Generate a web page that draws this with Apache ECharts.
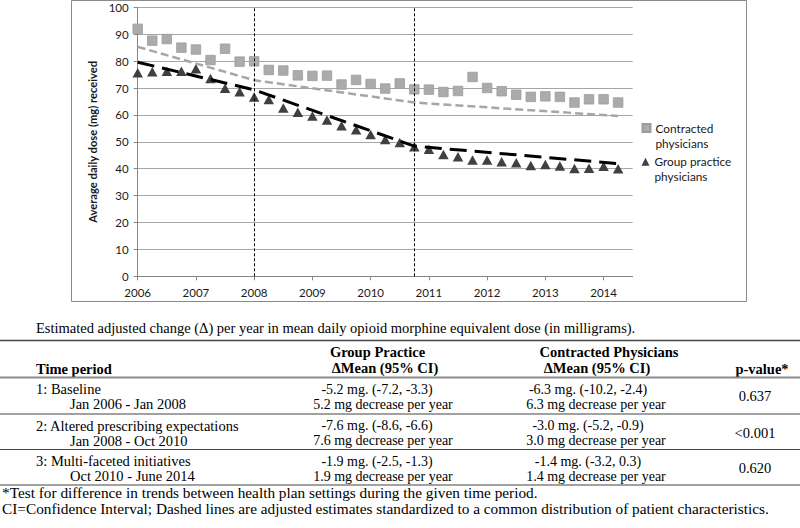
<!DOCTYPE html>
<html><head><meta charset="utf-8">
<script src="https://cdn.jsdelivr.net/npm/echarts@6/dist/echarts.min.js"></script>
<style>html,body{margin:0;padding:0;background:#fff}#c{width:800px;height:528px}</style>
</head><body><div id="c"></div>
<script>
// ---- chart data ----
const years = [2006,2006.25,2006.5,2006.75,2007,2007.25,2007.5,2007.75,2008,2008.25,2008.5,2008.75,2009,2009.25,2009.5,2009.75,2010,2010.25,2010.5,2010.75,2011,2011.25,2011.5,2011.75,2012,2012.25,2012.5,2012.75,2013,2013.25,2013.5,2013.75,2014,2014.25];
const contracted = [92,87.6,88.2,85.0,84.3,80.4,84.6,79.8,79.9,76.7,76.5,74.7,74.5,74.6,71.3,73.0,71.5,69.8,71.7,69.5,69.4,68.5,68.9,74.1,70.0,68.8,67.5,66.7,66.9,66.7,64.6,65.8,65.8,64.6];
const groupPractice = [75.7,76.0,76.2,76.2,77.2,73.5,69.9,68.6,66.7,65.7,62.6,61.0,59.6,58.1,56.0,54.5,52.7,50.9,49.7,48.2,47.2,45.3,44.4,43.2,43.2,42.6,42.2,41.2,41.6,41.0,40.1,40.2,40.9,40.0];
const trendYears = [2006,2008,2010.75,2014.25];
const trendContracted = [85.3,72.9,64.6,59.6];
const trendGroup = [79.6,69.3,48.4,41.9];
const breakYears = [2008,2010.75];
const xTickLabels = [2006,2007,2008,2009,2010,2011,2012,2013,2014];
const seriesNames = ['Contracted physicians','Group practice physicians'];
const yTitle = 'Average daily dose (mg) received';

// ---- table text ----
const tableTitle = 'Estimated adjusted change (\u0394) per year in mean daily opioid morphine equivalent dose (in milligrams).';
const headGroup = ['Group Practice','\u0394Mean (95% CI)'];
const headContracted = ['Contracted Physicians','\u0394Mean (95% CI)'];
const headPeriod = 'Time period';
const headP = 'p-value*';
const periodNames = ['1: Baseline','2: Altered prescribing expectations','3: Multi-faceted initiatives'];
const periodDates = ['Jan 2006 - Jan 2008','Jan 2008 - Oct 2010','Oct 2010 - June 2014'];
const groupCI = ['-5.2 mg. (-7.2, -3.3)','-7.6 mg. (-8.6, -6.6)','-1.9 mg. (-2.5, -1.3)'];
const groupDesc = ['5.2 mg decrease per year','7.6 mg decrease per year','1.9 mg decrease per year'];
const contractedCI = ['-6.3 mg. (-10.2, -2.4)','-3.0 mg. (-5.2, -0.9)','-1.4 mg. (-3.2, 0.3)'];
const contractedDesc = ['6.3 mg decrease per year','3.0 mg decrease per year','1.4 mg decrease per year'];
const pValues = ['0.637','<0.001','0.620'];
const footnotes = ['*Test for difference in trends between health plan settings during the given time period.',
  'CI=Confidence Interval; Dashed lines are adjusted estimates standardized to a common distribution of patient characteristics.'];

const SANS = 'Lato, "Noto Sans", sans-serif';
const SERIF = '"Liberation Serif", "Times New Roman", serif';
const TXT = '#1a1a1a';

function t(text, x, y, opts) {
  opts = opts || {};
  return {type:'text', x:x, y:y, silent:true, style:{text:text, x:0, y:0,
    fill:'#000', font:(opts.bold?'bold ':'') + (opts.size||14) + 'px ' + SERIF,
    textAlign:opts.align||'left', textVerticalAlign:'middle'}};
}
function rule(y, w, c) {
  return {type:'line', silent:true, shape:{x1:0,y1:y,x2:800,y2:y}, style:{stroke:c||'#555', lineWidth:w||1}};
}

const g = [];
g.push({type:'rect', silent:true, shape:{x:71.5,y:0.5,width:675,height:301}, style:{fill:'none', stroke:'#8a8a8a', lineWidth:1}});
g.push(t(tableTitle, 36, 328, {size:14.5}));
g.push(rule(340.5, 1.5, '#444'));
g.push(t(headGroup[0], 377.5, 352, {bold:true, align:'center', size:14.5}));
g.push(t(headGroup[1], 385, 368, {bold:true, align:'center', size:14.5}));
g.push(t(headContracted[0], 609, 352, {bold:true, align:'center', size:14.5}));
g.push(t(headContracted[1], 597, 368, {bold:true, align:'center', size:14.5}));
g.push(t(headPeriod, 36, 369, {bold:true, size:14.5}));
g.push(t(headP, 762, 369, {bold:true, align:'center', size:14.5}));
g.push(rule(377.5, 2, '#8c8c8c'));
const rowTop = [377.5, 414, 449.5];
const rowRules = [414, 449.5, 485];
for (let i = 0; i < 3; i++) {
  const y1 = rowTop[i] + 11.5, y2 = rowTop[i] + 26.5, ym = rowTop[i] + 18.5;
  g.push(t(periodNames[i], 36, y1, {size:14.5}));
  g.push(t(periodDates[i], 70, y2, {size:14.5}));
  g.push(t(groupCI[i], 377, y1, {align:'center'}));
  g.push(t(groupDesc[i], 383, y2, {align:'center'}));
  g.push(t(contractedCI[i], 588, y1, {align:'center'}));
  g.push(t(contractedDesc[i], 596, y2, {align:'center'}));
  g.push(t(pValues[i], 755, ym, {align:'center', size:14.5}));
  g.push(rule(rowRules[i], 1.2, '#444'));
}
g.push(t(footnotes[0], 2, 492.6, {size:15.3}));
g.push(t(footnotes[1], 2, 508.6, {size:15.3}));

function legendFor(idx, top) {
  return {orient:'vertical', left:641.5, top:top, padding:0, itemWidth:8, itemHeight:8,
    data:[seriesNames[idx]],
    formatter:function(n){return '\n' + n.replace(' physicians','\nphysicians');},
    textStyle:{fontFamily:SANS, fontSize:11.8, lineHeight:15, color:TXT}};
}

const chart = echarts.init(document.getElementById('c'), null, {renderer:'svg'});
chart.setOption({
  animation:false,
  backgroundColor:'#fff',
  grid:{left:137.7, top:7.3, right:167.3, bottom:251.7, containLabel:false},
  xAxis:{type:'value', min:2006, max:2014.5,
    axisLine:{show:true, onZero:false, lineStyle:{color:'#868686', width:1}},
    axisTick:{show:true, length:4, customValues:xTickLabels, lineStyle:{color:'#868686'}},
    axisLabel:{customValues:xTickLabels, formatter:function(v){return String(v);}, margin:10, color:TXT, fontFamily:SANS, fontSize:11.5},
    splitLine:{show:false}},
  yAxis:{type:'value', min:0, max:100, interval:10,
    name:yTitle, nameLocation:'middle', nameGap:31,
    nameTextStyle:{fontFamily:SANS, fontWeight:'bold', fontSize:11.2, color:TXT},
    axisLine:{show:true, lineStyle:{color:'#868686'}},
    axisTick:{show:true, length:4, lineStyle:{color:'#868686'}},
    axisLabel:{margin:9, color:TXT, fontFamily:SANS, fontSize:11.5},
    splitLine:{show:true, lineStyle:{color:'#a6a6a6', width:1}}},
  legend:[legendFor(0, 105.5), legendFor(1, 139.2)],
  series:[
    {name:seriesNames[0], type:'scatter', symbol:'rect', symbolSize:9.5, z:2,
      itemStyle:{color:'#ababab', borderColor:'#9c9c9c', borderWidth:0.8, opacity:1},
      data:years.map((x,i)=>[x, contracted[i]])},
    {name:seriesNames[1], type:'scatter', symbol:'triangle', symbolSize:[10.5,9.5], z:2,
      itemStyle:{color:'#404040', opacity:1},
      data:years.map((x,i)=>[x, groupPractice[i]])},
    {name:'Contracted adjusted', type:'line', symbol:'none', z:3,
      lineStyle:{color:'#a6a6a6', width:2.5, type:[8,4]},
      data:trendYears.map((x,i)=>[x, trendContracted[i]]),
      markLine:{silent:true, symbol:['none','none'], label:{show:false},
        lineStyle:{color:'#000', width:1, type:[3,2]},
        data:breakYears.map(v=>({xAxis:v}))}},
    {name:'Group adjusted', type:'line', symbol:'none', z:4,
      lineStyle:{color:'#000', width:3, type:[17,8]},
      data:trendYears.map((x,i)=>[x, trendGroup[i]])}
  ],
  graphic:g
});
</script></body></html>
